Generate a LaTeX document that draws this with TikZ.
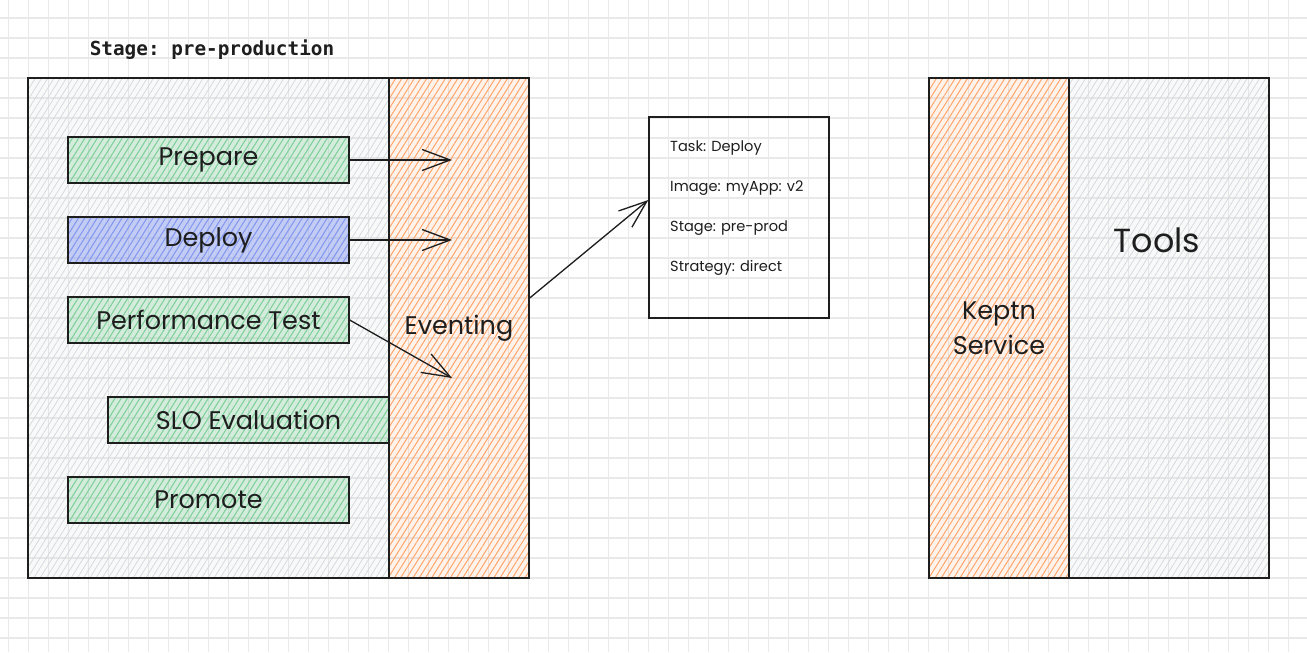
\documentclass[tikz,border=0pt]{standalone}
\usepackage{fontspec}
\setmainfont{Poppins}
\setmonofont{DejaVu Sans Mono}
\usepackage{tikz}
\usetikzlibrary{arrows.meta, patterns.meta, positioning}

\definecolor{gridgray}{HTML}{E9E9E9}
\definecolor{hatchgray}{HTML}{D4D7DB}
\definecolor{hatchorange}{HTML}{FFA468}
\definecolor{hatchgreen}{HTML}{7ED19A}
\definecolor{hatchblue}{HTML}{8397F0}
\definecolor{inkblack}{HTML}{1E1E1E}

\begin{document}
\begin{tikzpicture}[x=0.02cm, y=-0.02cm, >={Straight Barb[length=16pt,width=12pt]},
    gridline/.style={draw=gridgray, line width=0.7pt},
    box/.style={rectangle, draw=inkblack, line width=0.8pt, inner sep=0pt, text=inkblack},
    grayhatch/.style={box, preaction={fill=hatchgray, fill opacity=0.15}, pattern={Lines[angle=58,distance=3pt,line width=0.4pt]}, pattern color=hatchgray},
    orangehatch/.style={box, preaction={fill=hatchorange, fill opacity=0.12}, pattern={Lines[angle=58,distance=3pt,line width=0.55pt]}, pattern color=hatchorange},
    greenhatch/.style={box, preaction={fill=hatchgreen, fill opacity=0.3}, pattern={Lines[angle=58,distance=3pt,line width=0.55pt]}, pattern color=hatchgreen},
    bluehatch/.style={box, preaction={fill=hatchblue, fill opacity=0.45}, pattern={Lines[angle=58,distance=3pt,line width=0.55pt]}, pattern color=hatchblue},
    step box/.style={minimum width=5.62cm, minimum height=0.92cm, font=\fontsize{14.5}{17}\selectfont},
    column/.style={minimum width=2.8cm, minimum height=10cm, font=\fontsize{14.5}{20}\selectfont, align=center},
    arr/.style={->, draw=inkblack, line width=0.75pt}]

    \useasboundingbox (0,0) rectangle (1307,652);
    \fill[white] (0,0) rectangle (1307,652);

    % background grid
    \foreach \gx in {0,...,64}
        \draw[gridline] (8.5+20*\gx,0) -- (8.5+20*\gx,652);
    \foreach \gy in {0,...,31}
        \draw[gridline] (0,18+20*\gy) -- (1307,18+20*\gy);

    % stage
    \node [font=\ttfamily\bfseries\fontsize{11}{13}\selectfont, text=inkblack] (stagetitle) at (212,50) {Stage: pre-production};
    \node [grayhatch, minimum width=7.22cm, minimum height=10cm] (stage) at (208.5,328) {};

    \node [greenhatch, step box] (prepare) at (208.5,160) {Prepare};
    \node [bluehatch, step box] (deploy) at (208.5,240) {Deploy};
    \node [greenhatch, step box] (perftest) at (208.5,320) {Performance Test};
    \node [greenhatch, step box] (slo) at (248.5,420) {SLO Evaluation};
    \node [greenhatch, step box] (promote) at (208.5,500) {Promote};

    \node [orangehatch, column] (eventing) at (459,328) {Eventing};

    % event payload
    \node [box, minimum width=3.6cm, minimum height=4.02cm] (task) at (739,217.5) {};
    \node [anchor=west, align=left, text=inkblack, font=\fontsize{8.3}{22.7}\selectfont] (taskinfo) at (664,208)
        {Task: Deploy\\Image: myApp: v2\\Stage: pre-prod\\Strategy: direct};

    % right side
    \node [orangehatch, column] (keptn) at (999,328) {Keptn\\Service};
    \node [grayhatch, minimum width=4cm, minimum height=10cm] (tools) at (1169,328) {};
    \node [text=inkblack, font=\fontsize{19}{22}\selectfont] (toolslabel) at (1157,240) {Tools};

    \coordinate (prepin) at (452,160);
    \coordinate (deployin) at (452,240);
    \coordinate (perfin) at (452,378);

    \draw[arr] (prepare.east) -- (prepin);
    \draw[arr] (deploy.east) -- (deployin);
    \draw[arr] (perftest.east) -- (perfin);
    \draw[arr] ([yshift=0.6cm]eventing.east) -- ([yshift=0.35cm]task.west);
\end{tikzpicture}
\end{document}
